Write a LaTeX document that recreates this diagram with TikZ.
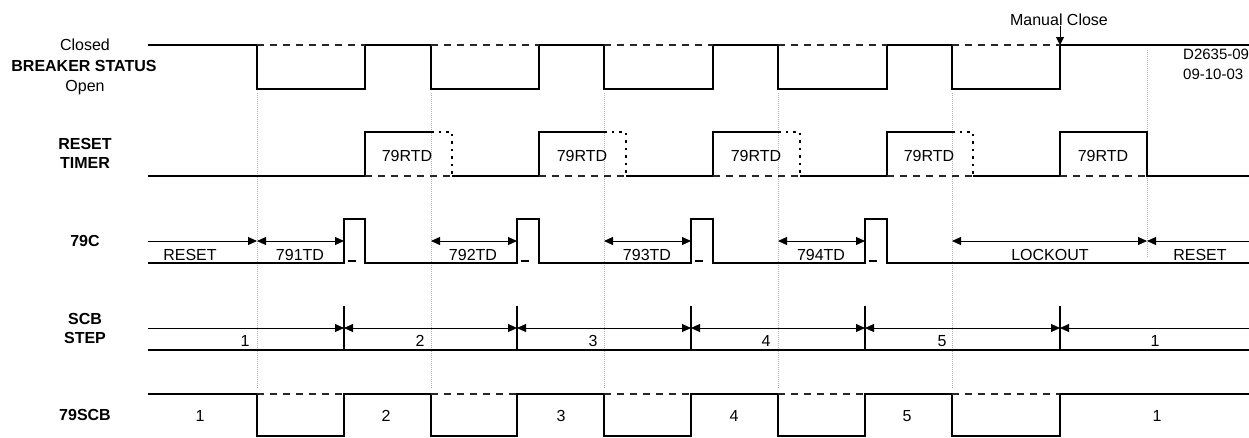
\documentclass[tikz,border=0pt]{standalone}
\usepackage{fontspec}
\setmainfont{Liberation Sans}
\usepackage{tikz}
\usetikzlibrary{arrows.meta,positioning}
\tikzset{
  sig/.style={line width=2pt, black},
  ghost/.style={line width=1.8pt, black!85, dash pattern=on 7pt off 6pt},
  dots/.style={line width=2pt, black, dash pattern=on 2.5pt off 5pt},
  guide/.style={line width=1pt, black!30, dash pattern=on 1pt off 1pt},
  dim/.style={line width=1pt, {Triangle[length=9pt,width=8pt]}-{Triangle[length=9pt,width=8pt]}},
  dimr/.style={line width=1pt, -{Triangle[length=9pt,width=8pt]}},
  diml/.style={line width=1pt, {Triangle[length=9pt,width=8pt]}-},
  lbl/.style={font=\fontsize{16}{19}\selectfont\bfseries},
}

\begin{document}
\begin{tikzpicture}[x=1pt, y=-1pt, every node/.style={font=\fontsize{16}{19}\selectfont, inner sep=0pt}]
  \useasboundingbox (0,0) rectangle (1249,437);

  \foreach \t in {257,431,604,778,952}
    \draw[guide] (\t,93) -- (\t,388);
  \draw[guide] (1147,50) -- (1147,257);

  % row titles
  \node (closed) at (85,45) {Closed};
  \node[lbl] (brk) at (84,66) {BREAKER STATUS};
  \node (open) at (85,88) {Open};
  \node[lbl, align=center] (rst) at (85,153) {RESET\\TIMER};
  \node[lbl] (c79) at (85,241) {79C};
  \node[lbl, align=center] (scb) at (85,328) {SCB\\STEP};
  \node[lbl] (scb79) at (85,415) {79SCB};

  % breaker status
  \draw[sig] (148,45) -| (257,89) -| (365,45) -| (431,89) -| (539,45) -| (604,89)
    -| (713,45) -| (778,89) -| (887,45) -| (952,89) -| (1060,45) -- (1249,45);
  \foreach \a/\b in {257/365,431/539,604/713,778/887,952/1060}
    \draw[ghost] (\a,45) -- (\b,45);
  \node (manual) at (1059,20) {Manual Close};
  \coordinate (mc) at (1060,45);
  \draw[line width=1pt, -{Triangle[length=8pt,width=8pt]}] (manual.south -| mc) -- (mc);
  \node[align=left, anchor=north west, font=\fontsize{15}{20}\selectfont] (dwg) at (1183,49) {D2635-09\\09-10-03};

  % reset timer
  \draw[sig] (148,176) -| (365,132) -- (431,132);
  \draw[sig] (452,176) -| (539,132) -- (604,132);
  \draw[sig] (626,176) -| (713,132) -- (778,132);
  \draw[sig] (800,176) -| (887,132) -- (952,132);
  \draw[sig] (973,176) -| (1060,132) -| (1147,176) -- (1249,176);
  \foreach \a/\b in {431/452,604/626,778/800,952/973}
    \draw[dots] (\a,132) -| (\b,176);
  \foreach \a/\b in {365/452,539/626,713/800,887/973,1060/1147}
    \draw[ghost] (\a,176) -- (\b,176);
  \foreach \t/\n in {407/1,582/2,756/3,929/4,1103/5}
    \node (rtd\n) at (\t,156) {79RTD};

  % 79C
  \draw[sig] (148,263) -| (344,219) -| (365,263) -| (517,219) -| (539,263) -| (691,219)
    -| (713,263) -| (865,219) -| (887,263) -- (1249,263);
  \foreach \t in {344,517,691,865}
    \draw[sig] (\t+4,261) -- (\t+12,261);
  \draw[dimr] (148,241) -- (257,241);
  \draw[dim] (257,241) -- (344,241);
  \draw[dim] (431,241) -- (517,241);
  \draw[dim] (604,241) -- (691,241);
  \draw[dim] (778,241) -- (865,241);
  \draw[dim] (952,241) -- (1147,241);
  \draw[diml] (1147,241) -- (1249,241);
  \node (creset) at (190,255) {RESET};
  \node (td1) at (300,255) {791TD};
  \node (td2) at (473,255) {792TD};
  \node (td3) at (647,255) {793TD};
  \node (td4) at (821,255) {794TD};
  \node (lock) at (1050,255) {LOCKOUT};
  \node (creset2) at (1200,255) {RESET};

  % SCB step
  \draw[sig] (148,350) -- (1249,350);
  \foreach \t in {344,517,691,865,1060}
    \draw[sig] (\t,306) -- (\t,350);
  \draw[dimr] (148,328) -- (344,328);
  \draw[dim] (344,328) -- (517,328);
  \draw[dim] (517,328) -- (691,328);
  \draw[dim] (691,328) -- (865,328);
  \draw[dim] (865,328) -- (1060,328);
  \draw[diml] (1060,328) -- (1249,328);
  \foreach \t/\n in {245/1,420/2,593/3,766/4,942/5,1155/1}
    \node (st\t) at (\t,341) {\n};

  % 79SCB
  \draw[sig] (148,394) -| (257,436) -| (344,394) -| (431,436) -| (517,394) -| (604,436)
    -| (691,394) -| (778,436) -| (865,394) -| (952,436) -| (1060,394) -- (1249,394);
  \foreach \a/\b in {257/344,431/517,604/691,778/865,952/1060}
    \draw[ghost] (\a,394) -- (\b,394);
  \foreach \t/\n in {200/1,386/2,561/3,734/4,907/5,1157/1}
    \node (sb\t) at (\t,416) {\n};
\end{tikzpicture}
\end{document}
